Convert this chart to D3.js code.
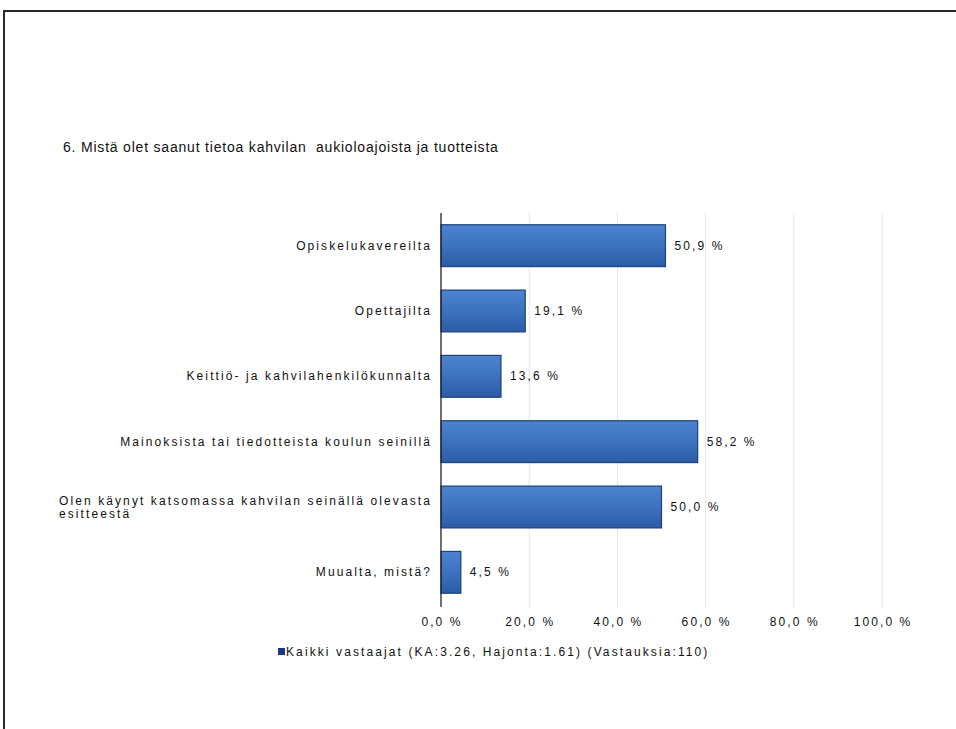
<!DOCTYPE html>
<html lang="fi">
<head>
  <meta charset="UTF-8">
  <title>Kahvila</title>
  <script src="https://d3js.org/d3.v7.min.js"></script>
  <style>
    body { margin: 0; background: #fff; overflow: hidden; }
    svg { display: block; }
    svg text { font-family: "Liberation Sans", Arial, sans-serif; fill: #111; }
    .cat, .val, .tick-lbl, .legend { font-size: 12px; letter-spacing: 2.1px; }
    .title { font-size: 14px; letter-spacing: 0.8px; }
  </style>
</head>
<body>
  <svg id="chart" width="956" height="729"></svg>

  <script>
    const categories = [
      "Opiskelukavereilta",
      "Opettajilta",
      "Keittiö- ja kahvilahenkilökunnalta",
      "Mainoksista tai tiedotteista koulun seinillä",
      "Olen käynyt katsomassa kahvilan seinällä olevasta\nesitteestä",
      "Muualta, mistä?"
    ];
    const values = [50.9, 19.1, 13.6, 58.2, 50.0, 4.5];
    const ticks = [0, 20, 40, 60, 80, 100];
    const title = "6. Mistä olet saanut tietoa kahvilan  aukioloajoista ja tuotteista";
    const legendText = "Kaikki vastaajat  (KA:3.26, Hajonta:1.61) (Vastauksia:110)";

    const fmt = v => v.toFixed(1).replace(".", ",") + " %";

    const svg = d3.select("#chart");

    // page frame (top and left edge only)
    svg.append("path")
      .attr("d", "M4,729 V11 H956")
      .attr("fill", "none").attr("stroke", "#2a2a2a").attr("stroke-width", 2);

    svg.append("text").attr("class", "title")
      .attr("x", 63).attr("y", 152)
      .style("white-space", "pre")
      .text(title);

    const x = d3.scaleLinear().domain([0, 100]).range([441, 882]);
    const y = d3.scaleBand().domain(categories).range([213, 605])
      .paddingInner(0.36).paddingOuter(0.18);

    const defs = svg.append("defs");
    const grad = defs.append("linearGradient").attr("id", "barGrad")
      .attr("x1", 0).attr("y1", 0).attr("x2", 0).attr("y2", 1);
    grad.append("stop").attr("offset", "0%").attr("stop-color", "#4d84cf");
    grad.append("stop").attr("offset", "50%").attr("stop-color", "#3d72be");
    grad.append("stop").attr("offset", "100%").attr("stop-color", "#2b5ca6");

    // grid
    svg.append("g").selectAll("line")
      .data(ticks.slice(1))
      .join("line")
      .attr("x1", d => x(d)).attr("x2", d => x(d))
      .attr("y1", 213).attr("y2", 608)
      .attr("stroke", "#e2e4ec").attr("stroke-width", 1);

    // bars
    svg.append("g").selectAll("rect")
      .data(values)
      .join("rect")
      .attr("x", x(0))
      .attr("y", (d, i) => y(categories[i]))
      .attr("width", d => x(d) - x(0))
      .attr("height", y.bandwidth())
      .attr("fill", "url(#barGrad)")
      .attr("stroke", "#1c3f7e").attr("stroke-width", 1.2);

    // axis line
    svg.append("line")
      .attr("x1", x(0)).attr("x2", x(0))
      .attr("y1", 213).attr("y2", 607)
      .attr("stroke", "#222").attr("stroke-width", 1.3);

    // value labels
    svg.append("g").selectAll("text")
      .data(values)
      .join("text").attr("class", "val")
      .attr("x", d => x(d) + 9)
      .attr("y", (d, i) => y(categories[i]) + y.bandwidth() / 2 + 4)
      .text(d => fmt(d));

    // category labels
    const catG = svg.append("g");
    categories.forEach(c => {
      const lines = c.split("\n");
      const cy = y(c) + y.bandwidth() / 2;
      const t = catG.append("text").attr("class", "cat");
      lines.forEach((ln, j) => {
        t.append("tspan").attr("x", 0)
          .attr("y", cy + 4 + (j - (lines.length - 1) / 2) * 13)
          .text(ln);
      });
      const w = t.node().getBBox().width;
      t.attr("transform", `translate(${432 - w},0)`);
    });

    // tick labels
    svg.append("g").selectAll("text")
      .data(ticks)
      .join("text").attr("class", "tick-lbl")
      .attr("x", d => x(d) + 1)
      .attr("y", 626)
      .attr("text-anchor", "middle")
      .text(d => fmt(d));

    // legend
    svg.append("rect")
      .attr("x", 278).attr("y", 648).attr("width", 7).attr("height", 7)
      .attr("fill", "#1a3784");
    svg.append("text").attr("class", "legend")
      .attr("x", 286).attr("y", 656)
      .text(legendText);
  </script>
</body>
</html>
